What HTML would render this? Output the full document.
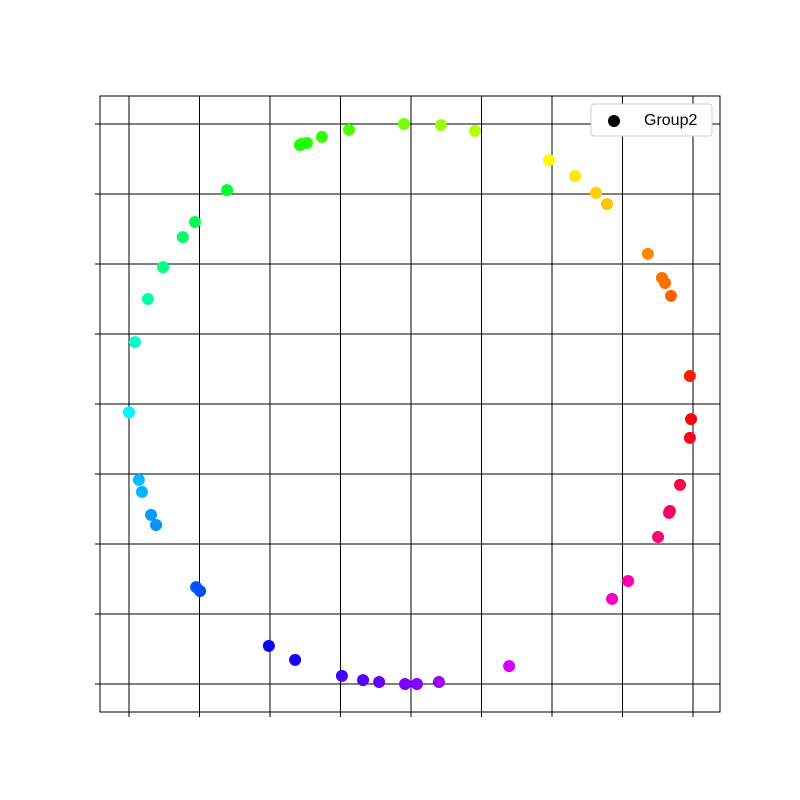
<!DOCTYPE html>
<html><head><meta charset="utf-8"><style>
body{margin:0;background:#fff}
svg{display:block;font-family:"Liberation Sans",sans-serif}
</style></head><body>
<svg id="chart" width="800" height="800" viewBox="0 0 800 800">
<g id="grid"></g>
<g id="ticks"></g>
<g id="points"></g>
<rect x="100" y="96" width="620" height="616" fill="none" stroke="#000" stroke-width="1"/>
<g>
<rect x="591" y="104" width="121" height="32" rx="3" fill="#fff" stroke="#ccc"/>
<circle cx="614" cy="121" r="6" fill="#000"/>
<text x="644" y="125" font-size="16" fill="#000">Group2</text>
</g>
</svg>
<script>
const xVals=[0.989,0.993,0.989,0.954,0.918,0.915,0.876,0.770,0.713,0.348,0.099,0.021,-0.021,-0.113,-0.170,-0.245,-0.411,-0.504,-0.748,-0.762,-0.904,-0.922,-0.954,-0.965,-1.0,-0.979,-0.933,-0.879,-0.809,-0.766,-0.652,-0.394,-0.387,-0.369,-0.316,-0.220,-0.025,0.106,0.227,0.489,0.582,0.656,0.695,0.840,0.890,0.901,0.922];
const yVals=[0.1,-0.054,-0.121,-0.289,-0.382,-0.389,-0.475,-0.632,-0.696,-0.936,-0.993,-1.0,-1.0,-0.993,-0.986,-0.971,-0.914,-0.864,-0.668,-0.654,-0.432,-0.396,-0.314,-0.271,-0.03,0.221,0.375,0.489,0.596,0.65,0.764,0.925,0.929,0.932,0.954,0.979,1.0,0.996,0.975,0.871,0.814,0.754,0.714,0.536,0.45,0.432,0.386];
const tickVals=[-1,-0.75,-0.5,-0.25,0,0.25,0.5,0.75,1];
const NS="http://www.w3.org/2000/svg";
const sx=v=>411+282*v, sy=v=>404-280*v;
const grid=document.getElementById('grid'),ticks=document.getElementById('ticks'),pts=document.getElementById('points');
function line(p,x1,y1,x2,y2,name){const l=document.createElementNS(NS,'line');
l.setAttribute('x1',x1);l.setAttribute('y1',y1);l.setAttribute('x2',x2);l.setAttribute('y2',y2);
l.setAttribute('stroke','#000');l.setAttribute('stroke-width','1');


p.appendChild(l);}
tickVals.forEach(t=>{
 line(grid,sx(t),96,sx(t),712,'grid-line-x');
 line(grid,100,sy(t),720,sy(t),'grid-line-y');
 line(ticks,sx(t),712,sx(t),717,'x-tick');
 line(ticks,95,sy(t),100,sy(t),'y-tick');
});
xVals.forEach((x,i)=>{
 const y=yVals[i];let a=Math.atan2(y,x)/(2*Math.PI);if(a<0)a+=1;
 const c=document.createElementNS(NS,'circle');
 c.setAttribute('cx',sx(x));c.setAttribute('cy',sy(y));c.setAttribute('r',6);
 c.setAttribute('fill','hsl('+(a*360)+',100%,50%)');
 
 
 pts.appendChild(c);
});
</script>
</body></html>
